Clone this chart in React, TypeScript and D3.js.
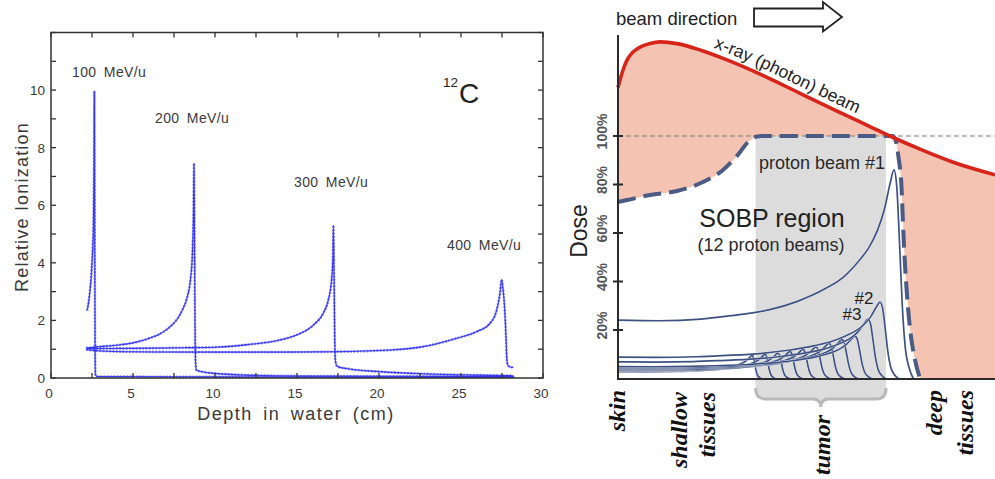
import React from 'react';
import * as d3 from 'd3';

type Pt = [number, number];

// ---------- Left panel: carbon-ion Bragg curves in water ----------
const energyLabels = ['100 MeV/u', '200 MeV/u', '300 MeV/u', '400 MeV/u'];
const energyLabelAt: Pt[] = [[72, 76.5], [155, 123], [294, 187], [447, 249.5]];

const c100: Pt[] = [
  [2.21, 2.37], [2.3, 2.65], [2.38, 3.06], [2.45, 3.5], [2.5, 4.0], [2.55, 4.6], [2.58, 5.1],
  [2.61, 6.5], [2.63, 8.0], [2.645, 9.95], [2.66, 7.0], [2.675, 3.5], [2.69, 1.0], [2.71, 0.1],
  [2.8, 0.05], [10, 0.04], [20, 0.03], [28.2, 0.03],
];
const c200: Pt[] = [
  [2.2, 1.05], [3, 1.09], [4, 1.14], [5, 1.22], [6, 1.38], [6.6, 1.52], [7.05, 1.68], [7.4, 1.85],
  [7.7, 2.05], [8.0, 2.35], [8.3, 2.8], [8.5, 3.4], [8.62, 4.3], [8.68, 5.5], [8.72, 7.45],
  [8.75, 5.0], [8.78, 2.0], [8.82, 0.5], [8.86, 0.28], [9.2, 0.22], [10, 0.16], [12, 0.1],
  [15, 0.07], [20, 0.06], [28.2, 0.05],
];
const c300: Pt[] = [
  [2.2, 1.02], [5, 1.03], [8, 1.05], [10, 1.07], [12, 1.16], [13.96, 1.32], [15, 1.5], [16, 1.84],
  [16.6, 2.25], [16.91, 2.71], [17.11, 3.41], [17.19, 4.22], [17.22, 5.3], [17.26, 3.5], [17.3, 1.5],
  [17.34, 0.6], [17.45, 0.4], [18, 0.33], [20, 0.22], [23, 0.14], [26, 0.1], [28.2, 0.08],
];
const c400: Pt[] = [
  [2.2, 0.98], [3, 0.94], [5, 0.91], [10, 0.9], [14, 0.9], [17, 0.91], [20.67, 0.97], [22.7, 1.09],
  [24.74, 1.38], [26.0, 1.62], [26.77, 1.9], [27.18, 2.37], [27.38, 2.95], [27.48, 3.42],
  [27.56, 3.1], [27.64, 2.6], [27.7, 2.0], [27.75, 1.3], [27.79, 0.7], [27.85, 0.45], [27.99, 0.38],
  [28.19, 0.37],
];
const ionCurves = [c100, c200, c300, c400];

const depthTicks = [0, 5, 10, 15, 20, 25, 30];
const depthMinorTicks = d3.range(0, 30.01, 2.5);
const ionTicks = [0, 2, 4, 6, 8, 10];
const ionMinorTicks = d3.range(0, 12.01, 1);

// ---------- Right panel: depth-dose of photons vs. protons ----------
const xray: Pt[] = [
  [0, 120.0], [0.53, 123.1], [1.33, 127.2], [2.39, 131.3], [3.71, 134.2], [5.04, 135.9],
  [8.49, 138.1], [11.14, 138.8], [15.65, 138.1], [21.75, 135.5], [28.9, 131.4], [37.7, 125.5],
  [43.0, 121.6], [49.1, 117.0], [58.1, 110.3], [66.8, 103.9], [72.1, 100.0], [80.1, 94.6],
  [88.9, 89.2], [100, 84.0],
];
const sobp: Pt[] = [
  [0, 72.8], [2.39, 73.6], [8.49, 75.7], [15.65, 77.3], [22.5, 81.0], [27.85, 86.0], [31.8, 92.2],
  [34.5, 97.5], [36.9, 99.8], [38.2, 100], [72.9, 100], [73.7, 97.9], [74.4, 91.3], [75.2, 79.0],
  [75.7, 60.0], [76.1, 47.6], [76.7, 33.6], [77.5, 20.0], [78.8, 7.6], [80.1, 0],
];
// Pristine Bragg peak profile: depth / peak depth, dose / peak dose
const braggProfile: Pt[] = [
  [0, 0.28], [0.15, 0.277], [0.3, 0.285], [0.4, 0.3], [0.55, 0.33], [0.65, 0.37], [0.75, 0.43],
  [0.82, 0.49], [0.87, 0.56], [0.91, 0.63], [0.94, 0.71], [0.965, 0.81], [0.985, 0.93], [1.0, 1.0],
  [1.01, 0.92], [1.02, 0.65], [1.03, 0.35], [1.04, 0.16], [1.055, 0.05], [1.07, 0],
];
// 12 proton beams (#1 deepest)
const beamPeakDepth = [73.21, 69.5, 66.31, 62.86, 59.42, 55.97, 52.52, 49.07, 45.62, 42.44, 38.99, 35.54];
const beamPeakDose = [86, 31.5, 24.5, 17.5, 16, 14.5, 13, 12, 11.2, 10.5, 10, 9.5];
const doseTicks = [20, 40, 60, 80, 100];
const tumorRange: Pt = [36.5, 71.1];

const W = 995;
const H = 479;

export default function App() {
  // left scales
  const xL = d3.scaleLinear().domain([0, 30]).range([51, 543]);
  const yL = d3.scaleLinear().domain([0, 12]).range([378, 32.5]);
  const lineL = d3.line<Pt>().x((d) => xL(d[0])).y((d) => yL(d[1])).curve(d3.curveMonotoneX);

  // right scales
  const xR = d3.scaleLinear().domain([0, 100]).range([618, 995]);
  const yR = d3.scaleLinear().domain([0, 100]).range([378.5, 136]);
  const lineR = d3.line<Pt>().x((d) => xR(d[0])).y((d) => yR(d[1])).curve(d3.curveMonotoneX);
  const areaR = d3
    .area<Pt>()
    .x((d) => xR(d[0]))
    .y0(yR(0))
    .y1((d) => yR(d[1]))
    .curve(d3.curveMonotoneX);
  const labelPath = d3
    .line<Pt>()
    .x((d) => xR(d[0]))
    .y((d) => yR(d[1]) - 7)
    .curve(d3.curveMonotoneX)(xray.filter((d) => d[0] >= 21 && d[0] <= 67));

  const beams = beamPeakDepth.map((pd, i) =>
    braggProfile.map(([t, r]) => [t * pd, r * beamPeakDose[i]] as Pt)
  );

  const L = xR(tumorRange[0]);
  const R = xR(tumorRange[1]);
  const T = yR(100);
  const mid = (L + R) / 2;
  const braceBottom = `M${L},388 Q${L},399 ${L + 10},399 H${mid - 8} Q${mid},399 ${mid},407 Q${mid},399 ${mid + 8},399 H${R - 10} Q${R},399 ${R},388`;
  const tumorFill = `M${L},${T} H${R} V388 Q${R},399 ${R - 10},399 H${mid + 8} Q${mid},399 ${mid},407 Q${mid},399 ${mid - 8},399 H${L + 10} Q${L},399 ${L},388 Z`;

  const blue = '#3030f6';
  const beamColor = '#3d5182';
  const sans = "'Liberation Sans', Arial, sans-serif";
  const serif = "'Liberation Serif', 'Times New Roman', serif";
  const txt = '#3a3a3a';

  return (
    <svg
      width={W}
      height={H}
      viewBox={`0 0 ${W} ${H}`}
      style={{ position: 'absolute', left: 0, top: 0, background: '#fff' }}
    >
      {/* ===== Left panel ===== */}
      <g fontFamily={sans} fill={txt}>
        {ionCurves.map((c, i) => (
          <g key={i}>
            <path d={lineL(c) || ''} fill="none" stroke={blue} strokeWidth={1.1} opacity={0.9} />
            <path
              d={lineL(c) || ''}
              fill="none"
              stroke={blue}
              strokeWidth={2.7}
              strokeDasharray="0 3.3"
              strokeLinecap="round"
              opacity={0.6}
            />
          </g>
        ))}
        <rect x={51} y={32.5} width={492} height={345.5} fill="none" stroke="#333" strokeWidth={1.5} />
        {depthMinorTicks.map((v) => (
          <g key={'dx' + v} stroke="#333" strokeWidth={1.3}>
            <line x1={xL(v)} x2={xL(v)} y1={378} y2={373} />
            <line x1={xL(v)} x2={xL(v)} y1={32.5} y2={37.5} />
          </g>
        ))}
        {ionMinorTicks.map((v) => (
          <g key={'iy' + v} stroke="#333" strokeWidth={1.3}>
            <line x1={51} x2={56} y1={yL(v)} y2={yL(v)} />
            <line x1={543} x2={538} y1={yL(v)} y2={yL(v)} />
          </g>
        ))}
        {depthTicks.map((v) => (
          <text key={'xl' + v} x={xL(v) - 2} y={398} fontSize={13.5} textAnchor="middle">
            {v}
          </text>
        ))}
        {ionTicks.map((v) => (
          <text key={'yl' + v} x={45} y={yL(v) + 5} fontSize={13.5} textAnchor="end">
            {v}
          </text>
        ))}
        <text x={296} y={420} fontSize={18} textAnchor="middle" letterSpacing={1.5} wordSpacing={4}>
          Depth in water (cm)
        </text>
        <text
          transform="translate(28,207) rotate(-90)"
          fontSize={18}
          textAnchor="middle"
          letterSpacing={1.2}
        >
          Relative Ionization
        </text>
        {energyLabels.map((s, i) => (
          <text
            key={s}
            x={energyLabelAt[i][0]}
            y={energyLabelAt[i][1]}
            fontSize={14}
            letterSpacing={0.4}
            wordSpacing={3}
          >
            {s}
          </text>
        ))}
        <text x={443} y={87} fontSize={13.5} fill="#222">
          12
        </text>
        <text x={459} y={103} fontSize={28} fill="#222">
          C
        </text>
      </g>

      {/* ===== Right panel ===== */}
      <g>
        <path d={areaR(xray) || ''} fill="#f5c3b2" />
        <path d={areaR(sobp) || ''} fill="#ffffff" />
        <path d={tumorFill} fill="#dcdcdc" />
        <path d={braceBottom} fill="none" stroke="#b9b9b9" strokeWidth={3} />
        <line x1={618} x2={995} y1={yR(100)} y2={yR(100)} stroke="#7a7a7a" strokeWidth={1} strokeDasharray="5 3" />
        {beams
          .map((b, i) => ({ b, i }))
          .reverse()
          .map(({ b, i }) => (
            <g key={'beam' + i}>
              <path d={lineR(b) || ''} fill="none" stroke="#fff" strokeWidth={2.1} />
              <path d={lineR(b) || ''} fill="none" stroke={beamColor} strokeWidth={1.7} />
            </g>
          ))}
        <path d={lineR(sobp) || ''} fill="none" stroke="#4b5b84" strokeWidth={4} strokeDasharray="18 8" />
        <path d={lineR(xray) || ''} fill="none" stroke="#d8251c" strokeWidth={3.6} />

        {/* axes */}
        <line x1={618} x2={618} y1={35} y2={379.5} stroke="#2a2a2a" strokeWidth={2} />
        <line x1={617} x2={995} y1={379} y2={379} stroke="#2a2a2a" strokeWidth={2.2} />
        {doseTicks.map((v) => (
          <g key={'dt' + v}>
            <line x1={613} x2={623} y1={yR(v)} y2={yR(v)} stroke="#2a2a2a" strokeWidth={2} />
            <text
              transform={`translate(607,${yR(v) - 4.5}) rotate(-90)`}
              fontFamily={sans}
              fontWeight="bold"
              fontSize={14}
              fill="#555"
              textAnchor="middle"
            >
              {v}%
            </text>
          </g>
        ))}
        <text
          transform="translate(587,231) rotate(-90)"
          fontFamily={sans}
          fontSize={23}
          fill="#222"
          textAnchor="middle"
        >
          Dose
        </text>

        {/* beam direction arrow */}
        <text x={616} y={25} fontFamily={sans} fontSize={18.5} fill="#222">
          beam direction
        </text>
        <path
          d="M754,8.5 H823 V2 L842,17 L823,31.5 V26.5 H754 Z"
          fill="#fff"
          stroke="#222"
          strokeWidth={1.8}
          strokeLinejoin="miter"
        />

        <path id="xrayLabelPath" d={labelPath || ''} fill="none" stroke="none" />
        <text fontFamily={sans} fontSize={17.5} fill="#222">
          <textPath href="#xrayLabelPath" startOffset="50%" textAnchor="middle">
            x-ray (photon) beam
          </textPath>
        </text>

        <text x={759} y={169} fontFamily={sans} fontSize={18} fill="#2a2a2a">
          proton beam #1
        </text>
        <text x={772} y={227} fontFamily={sans} fontSize={25} fill="#222" textAnchor="middle">
          SOBP region
        </text>
        <text x={771} y={251} fontFamily={sans} fontSize={18} fill="#2a2a2a" textAnchor="middle">
          (12 proton beams)
        </text>
        <text x={864} y={304} fontFamily={sans} fontSize={17} fill="#222" textAnchor="middle">
          #2
        </text>
        <text x={852} y={320} fontFamily={sans} fontSize={17} fill="#222" textAnchor="middle">
          #3
        </text>

        {/* tissue labels */}
        <g fontFamily={serif} fontWeight="bold" fontStyle="italic" fontSize={24} fill="#111" textAnchor="end">
          <text transform="translate(625,390) rotate(-90)">skin</text>
          <text transform="translate(687,392) rotate(-90)">shallow</text>
          <text transform="translate(715,392) rotate(-90)">tissues</text>
          <text transform="translate(830,415) rotate(-90)">tumor</text>
          <text transform="translate(942,390) rotate(-90)">deep</text>
          <text transform="translate(973,390) rotate(-90)">tissues</text>
        </g>
      </g>
    </svg>
  );
}
